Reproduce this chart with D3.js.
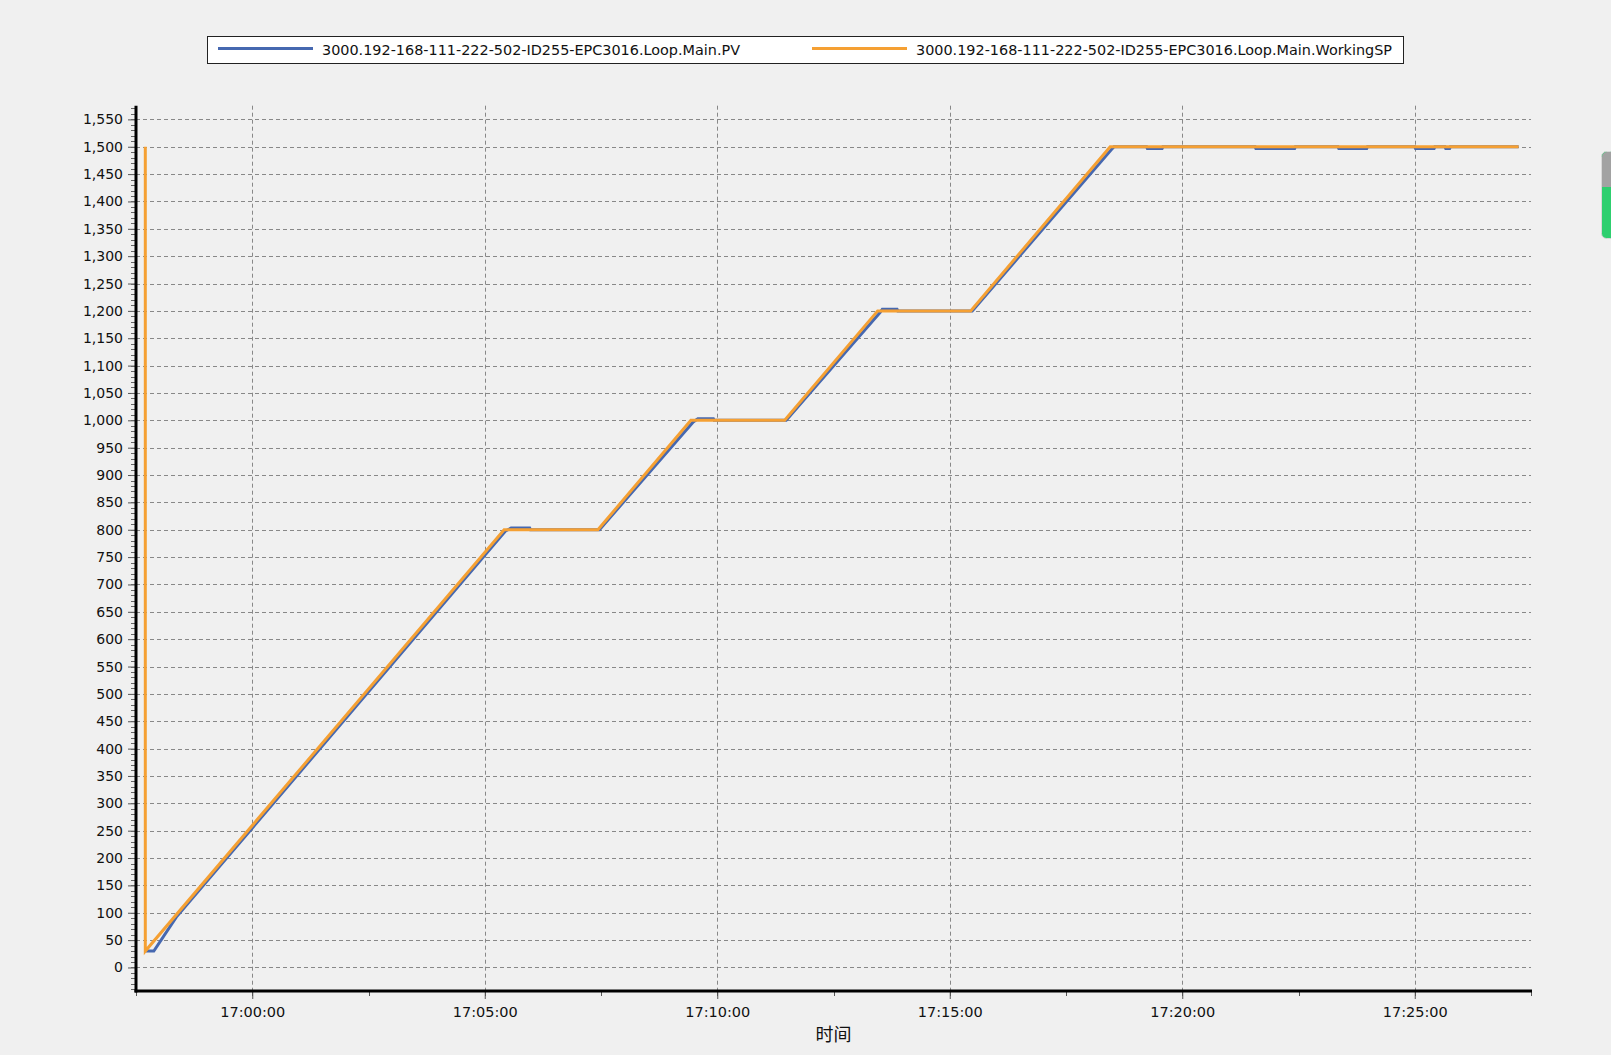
<!DOCTYPE html>
<html>
<head>
<meta charset="utf-8">
<script src="https://cdn.jsdelivr.net/npm/d3@7"></script>
<style>
    html, body { margin: 0; padding: 0; background: #f0f0f0; }
    svg { display: block; }
</style>
</head>
<body>
<svg></svg>
<script>
const seriesNames = [
    '3000.192-168-111-222-502-ID255-EPC3016.Loop.Main.PV',
    '3000.192-168-111-222-502-ID255-EPC3016.Loop.Main.WorkingSP'
]

// working setpoint
const spTimes = ['16:57:42', '16:57:42', '17:05:25', '17:07:26', '17:09:26', '17:11:27', '17:13:27', '17:15:27', '17:18:27', '17:27:14']
const spValues = [1500, 30, 800, 800, 1000, 1000, 1200, 1200, 1500, 1500]

// process value, lags the setpoint a little and overshoots on the dwells
const pvTimes = [
    '16:57:42', '16:57:53', '16:58:22', '17:05:27', '17:05:34', '17:05:58', '17:05:59', '17:07:28',
    '17:09:29', '17:09:35', '17:09:55', '17:09:56', '17:11:29',
    '17:13:30', '17:13:33', '17:13:52', '17:13:53', '17:15:29',
    '17:18:30', '17:18:32', '17:19:14', '17:19:15', '17:19:34', '17:19:35',
    '17:21:34', '17:21:35', '17:22:25', '17:22:26', '17:23:21', '17:23:22', '17:23:58', '17:23:59',
    '17:25:00', '17:25:01', '17:25:25', '17:25:26', '17:25:39', '17:25:40', '17:25:45', '17:25:46', '17:27:14'
]
const pvValues = [
    30, 30, 92, 798, 803, 803, 800, 800,
    997, 1003, 1003, 1000, 1000,
    1197, 1203, 1203, 1200, 1200,
    1497, 1500, 1500, 1497, 1497, 1500,
    1500, 1497, 1497, 1500, 1500, 1497, 1497, 1500,
    1500, 1497, 1497, 1500, 1500, 1497, 1497, 1500, 1500
]

const yTicks = d3.range(0, 1551, 50)
const yMinorTicks = d3.range(-40, 1571, 10)
const timeDomain = ['16:57:30', '17:27:30']
const axisTitle = '时间'

const width = 1611
const height = 1055
const plotLeft = 136
const plotRight = 1531
const plotTop = 105.7
const plotBottom = 991

const parse = d3.timeParse('%H:%M:%S')
const toPoints = (times, values) => times.map((t, i) => ({ t: parse(t), v: values[i] }))
const pv = toPoints(pvTimes, pvValues)
const sp = toPoints(spTimes, spValues)

const svg = d3.select('svg').attr('width', width).attr('height', height)
    .style('font-family', '"DejaVu Sans", sans-serif')

const x = d3.scaleTime().domain(timeDomain.map(parse)).range([plotLeft, plotRight])
const y = d3.scaleLinear().domain([-43, 1575]).range([plotBottom, plotTop])

const majorTimes = d3.timeMinute.every(5).range(x.domain()[0], d3.timeSecond.offset(x.domain()[1], 1))
const minorTimes = d3.timeSecond.range(x.domain()[0], d3.timeSecond.offset(x.domain()[1], 1), 150)

// dashed grid
const grid = svg.append('g').attr('stroke', '#888').attr('stroke-width', 1).attr('stroke-dasharray', '4,3')
grid.selectAll('line.h').data(yTicks).enter().append('line')
    .attr('x1', plotLeft).attr('x2', plotRight)
    .attr('y1', d => Math.round(y(d)) + 0.5).attr('y2', d => Math.round(y(d)) + 0.5)
grid.selectAll('line.v').data(majorTimes).enter().append('line')
    .attr('y1', plotTop).attr('y2', plotBottom)
    .attr('x1', d => Math.round(x(d)) + 0.5).attr('x2', d => Math.round(x(d)) + 0.5)

// y axis
const yAxis = svg.append('g').attr('transform', `translate(${plotLeft},0)`)
    .call(d3.axisLeft(y).tickValues(yTicks).tickFormat(d3.format(',')).tickSize(8).tickPadding(5))
yAxis.select('.domain').remove()
yAxis.selectAll('text').attr('font-size', 14).attr('fill', '#111').attr('font-family', '"DejaVu Sans", sans-serif')
yAxis.selectAll('line').attr('stroke', '#555')
svg.append('g').selectAll('line').data(yMinorTicks).enter().append('line')
    .attr('x1', plotLeft - 5).attr('x2', plotLeft)
    .attr('y1', d => Math.round(y(d)) + 0.5).attr('y2', d => Math.round(y(d)) + 0.5)
    .attr('stroke', '#666')

// x axis
const xAxis = svg.append('g').attr('transform', `translate(0,${plotBottom})`)
    .call(d3.axisBottom(x).tickValues(majorTimes).tickFormat(d3.timeFormat('%H:%M:%S')).tickSize(8).tickPadding(8))
xAxis.select('.domain').remove()
xAxis.selectAll('text').attr('font-size', 14.5).attr('fill', '#111').attr('font-family', '"DejaVu Sans", sans-serif')
xAxis.selectAll('line').attr('stroke', '#555')
svg.append('g').selectAll('line').data(minorTimes).enter().append('line')
    .attr('y1', plotBottom).attr('y2', plotBottom + 5)
    .attr('x1', d => Math.round(x(d)) + 0.5).attr('x2', d => Math.round(x(d)) + 0.5)
    .attr('stroke', '#555')

svg.append('line').attr('x1', plotLeft).attr('x2', plotLeft).attr('y1', plotTop).attr('y2', plotBottom + 1.5)
    .attr('stroke', '#000').attr('stroke-width', 3)
svg.append('line').attr('x1', plotLeft - 1.5).attr('x2', plotRight + 1).attr('y1', plotBottom).attr('y2', plotBottom)
    .attr('stroke', '#000').attr('stroke-width', 3)

svg.append('text').attr('x', (plotLeft + plotRight) / 2).attr('y', 1041)
    .attr('text-anchor', 'middle').attr('font-size', 18)
    .attr('font-family', '"Noto Sans CJK SC", sans-serif').attr('fill', '#111')
    .text(axisTitle)

// series
const colors = ['#4668b0', '#f5a033']
const line = d3.line().x(d => x(d.t)).y(d => y(d.v))
svg.append('path').datum(pv).attr('d', line)
    .attr('fill', 'none').attr('stroke', colors[0]).attr('stroke-width', 3)
svg.append('path').datum(sp).attr('d', line)
    .attr('fill', 'none').attr('stroke', colors[1]).attr('stroke-width', 3)

// legend
const legend = svg.append('g')
legend.append('rect').attr('x', 207.5).attr('y', 36.5).attr('width', 1196).attr('height', 27)
    .attr('fill', '#fff').attr('stroke', '#222').attr('stroke-width', 1)
const legendItems = [{ x: 218, name: seriesNames[0], color: colors[0] }, { x: 812, name: seriesNames[1], color: colors[1] }]
legendItems.forEach(item => {
    legend.append('line').attr('x1', item.x).attr('x2', item.x + 95).attr('y1', 48.5).attr('y2', 48.5)
        .attr('stroke', item.color).attr('stroke-width', 3)
    legend.append('text').attr('x', item.x + 104).attr('y', 49.5).attr('dominant-baseline', 'central')
        .attr('font-size', 14.4).attr('fill', '#111').text(item.name)
})

// little scroll indicator on the right edge
const bar = svg.append('g')
bar.append('rect').attr('x', 1601.5).attr('y', 151.5).attr('width', 14).attr('height', 87).attr('rx', 5)
    .attr('fill', '#2ecf6f').attr('stroke', '#d8d8d8')
bar.append('path').attr('d', 'M1602,187 V157 a5,5 0 0 1 5,-5 H1611 V187 Z').attr('fill', '#a2a2a2')
</script>
</body>
</html>
